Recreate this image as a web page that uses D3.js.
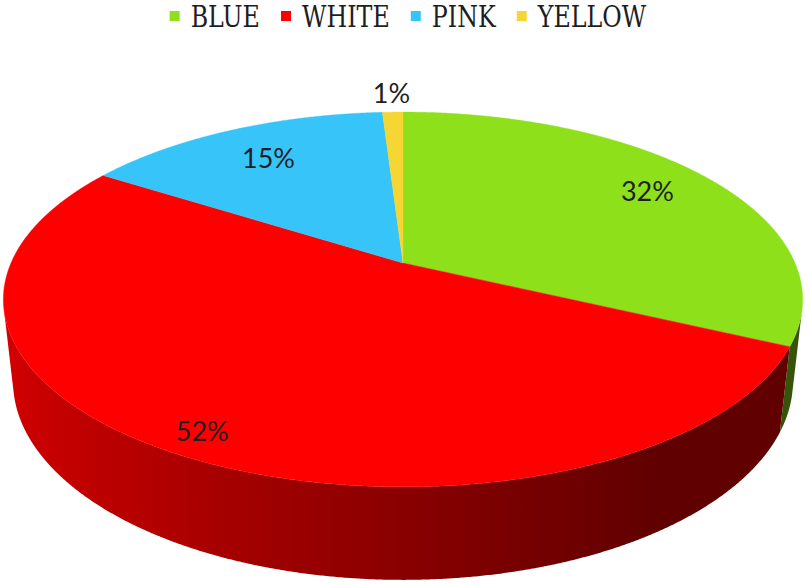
<!DOCTYPE html>
<html>
<head>
<meta charset="utf-8">
<script src="https://cdn.jsdelivr.net/npm/d3@7"></script>
<style>
  html, body { margin: 0; padding: 0; background: #ffffff; }
  svg { display: block; }
</style>
</head>
<body>
<svg id="chart" width="809" height="585"></svg>
<script>
// Share of each colour
const categories = ["BLUE", "WHITE", "PINK", "YELLOW"];
const values = [32, 52, 15, 1];
const labels = ["32%", "52%", "15%", "1%"];
const colors = ["#8EE01A", "#FF0000", "#36C4F9", "#F6D632"];

// Layout of the tilted disc (radius-relative units)
const view = {
  cx: 403, cy: 263,      // screen position of the disc centre
  scale: 392,            // pixels per radius
  tilt: Math.asin(0.46), // elevation of the viewer
  dist: 4.565,           // viewer distance, in radii
  depth: 0.237           // disc thickness, in radii
};
// Radial position of each value label, as a fraction of the radius
const labelRadius = [0.80, 0.90, 0.76, 1.15];

const svg = d3.select("#chart");
const defs = svg.append("defs");
const color = d3.scaleOrdinal().domain(categories).range(colors);

const sinT = Math.sin(view.tilt), cosT = Math.cos(view.tilt);
// angle: clockwise from the far edge; r: radius fraction; y: height (0 = top face)
function project(angle, r, y) {
  const x = r * Math.sin(angle), z = -r * Math.cos(angle);
  const yc = y * cosT - z * sinT;
  const zc = z * cosT + y * sinT;
  const k = view.dist / (view.dist - zc);
  return [view.cx + view.scale * x * k, view.cy - view.scale * yc * k];
}

const pie = d3.pie().sort(null).value(d => d.value);
const arcs = pie(categories.map((c, i) => ({ cat: c, value: values[i], label: labels[i] })));

const line = d3.line();
const step = Math.PI / 720;

// The rim faces the viewer where cos(angle) < -1 / camZ
const camZ = view.dist * cosT;
const frontFrom = Math.acos(-1 / camZ), frontTo = 2 * Math.PI - frontFrom;

// Side wall lit from the left: brightness falls as the wall turns to the right
function shade(angle) {
  return Math.max(0.376, Math.min(0.85, 0.54 - 0.3 * Math.sin(angle)));
}

const wallLayer = svg.append("g");
arcs.forEach((a, i) => {
  const t0 = Math.max(a.startAngle, frontFrom), t1 = Math.min(a.endAngle, frontTo);
  if (t1 <= t0) return;
  const n = Math.max(2, Math.ceil((t1 - t0) / step));
  const ang = d3.range(n + 1).map(j => t0 + (t1 - t0) * j / n);
  const upper = ang.map(t => project(t, 1, 0));
  const lower = ang.map(t => project(t, 1, -view.depth)).reverse();

  const xs = upper.map(p => p[0]);
  const xMin = d3.min(xs), xMax = d3.max(xs);
  const base = d3.rgb(color(a.data.cat));
  const grad = defs.append("linearGradient")
    .attr("id", "wall-" + i)
    .attr("gradientUnits", "userSpaceOnUse")
    .attr("x1", xMin).attr("x2", xMax).attr("y1", 0).attr("y2", 0);
  const stops = ang.filter((t, j) => j % 6 === 0 || j === n).map(t => {
    const b = shade(t);
    return {
      off: xMax > xMin ? (project(t, 1, 0)[0] - xMin) / (xMax - xMin) : 0,
      col: d3.rgb(base.r * b, base.g * b, base.b * b).formatHex()
    };
  }).sort((p, q) => p.off - q.off);
  grad.selectAll("stop").data(stops).join("stop")
    .attr("offset", s => s.off)
    .attr("stop-color", s => s.col);

  wallLayer.append("path")
    .attr("d", line(upper.concat(lower)) + "Z")
    .attr("fill", `url(#wall-${i})`);
});

// Top face
const faceLayer = svg.append("g");
arcs.forEach(a => {
  const pts = [project(0, 0, 0)];
  const n = Math.max(2, Math.ceil((a.endAngle - a.startAngle) / step));
  for (let i = 0; i <= n; i++) {
    pts.push(project(a.startAngle + (a.endAngle - a.startAngle) * i / n, 1, 0));
  }
  faceLayer.append("path")
    .attr("d", line(pts) + "Z")
    .attr("fill", color(a.data.cat))
    .attr("stroke", color(a.data.cat))
    .attr("stroke-width", 0.4);
});

// Value labels
svg.append("g").selectAll("text")
  .data(arcs)
  .join("text")
  .attr("transform", (a, i) => {
    const p = project((a.startAngle + a.endAngle) / 2, labelRadius[i], 0);
    return `translate(${p[0]},${p[1]})`;
  })
  .attr("text-anchor", "middle")
  .attr("dy", "0.36em")
  .attr("font-family", "Lato, 'Liberation Sans', sans-serif")
  .attr("font-size", 27)
  .attr("fill", "#1e1e1e")
  .text(a => a.data.label);

// Legend across the top
const legend = svg.append("g");
const squeeze = 0.82, gap = 21, markerGap = 21, marker = 10;
const items = legend.selectAll("g").data(categories).join("g");
items.append("rect")
  .attr("width", marker).attr("height", marker)
  .attr("y", 11)
  .attr("fill", d => color(d));
items.append("text")
  .attr("font-family", "'DejaVu Serif', serif")
  .attr("font-size", 29)
  .attr("fill", "#1e1e1e")
  .attr("y", 27.5)
  .text(d => d);
const widths = [];
items.select("text").each(function () { widths.push(this.getComputedTextLength() * squeeze); });
items.select("text").attr("transform", `translate(${markerGap},0) scale(${squeeze},1)`);
const total = d3.sum(widths) + categories.length * markerGap + (categories.length - 1) * gap;
let x = 408 - total / 2;
items.attr("transform", (d, i) => {
  const tx = x;
  x += markerGap + widths[i] + gap;
  return `translate(${tx},0)`;
});
</script>
</body>
</html>
